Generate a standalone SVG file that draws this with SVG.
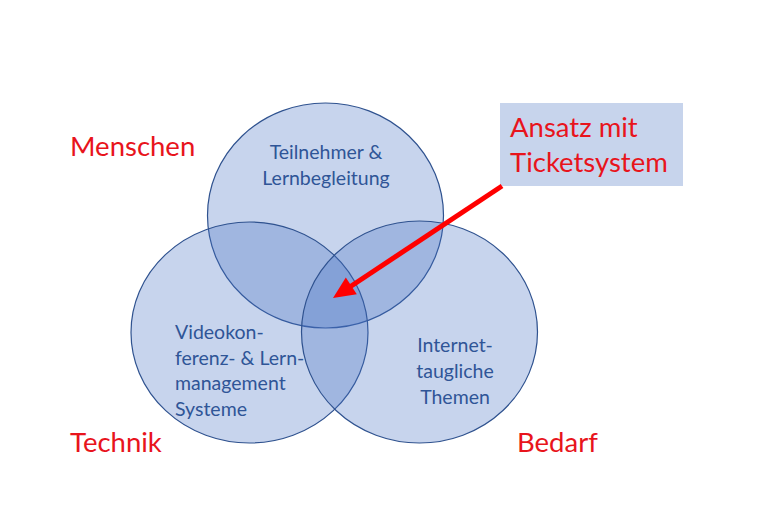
<svg xmlns="http://www.w3.org/2000/svg" width="762" height="508" viewBox="0 0 762 508">
<style>
.set{fill:#4472c4;fill-opacity:0.3;stroke:#2f528f;stroke-width:1.2}
.t{font-family:Lato,"Open Sans",sans-serif;font-size:19.5px;fill:#2f5597}
.r{font-family:Lato,"Open Sans",sans-serif;font-size:27.5px;fill:#e8141c}
</style>
<rect width="762" height="508" fill="#ffffff"/>
<g id="top-circle">
<ellipse class="set" cx="325.5" cy="215.5" rx="118" ry="112.5"/>
<text class="t" x="326" y="159" text-anchor="middle">Teilnehmer &amp;</text>
<text class="t" x="326" y="185" text-anchor="middle">Lernbegleitung</text>
</g>
<g id="left-circle">
<ellipse class="set" cx="249.5" cy="332.5" rx="118.5" ry="110.5"/>
<text class="t" x="175" y="339">Videokon-</text>
<text class="t" x="175" y="365">ferenz- &amp; Lern-</text>
<text class="t" x="175" y="390">management</text>
<text class="t" x="175" y="416">Systeme</text>
</g>
<g id="right-circle">
<ellipse class="set" cx="419.5" cy="332" rx="118" ry="111"/>
<text class="t" x="455" y="352" text-anchor="middle">Internet-</text>
<text class="t" x="455" y="378" text-anchor="middle">taugliche</text>
<text class="t" x="455" y="404" text-anchor="middle">Themen</text>
</g>
<g id="label-menschen"><text class="r" x="70" y="156">Menschen</text></g>
<g id="label-technik"><text class="r" x="70" y="452">Technik</text></g>
<g id="label-bedarf"><text class="r" x="517" y="452">Bedarf</text></g>
<g id="callout">
<rect x="500" y="103" width="183" height="83" fill="#c7d4ec"/>
<text class="r" x="510" y="137">Ansatz mit</text>
<text class="r" x="510" y="172">Ticketsystem</text>
</g>
<g id="connectors">
<line x1="502" y1="186" x2="349" y2="287.5" stroke="#ff0000" stroke-width="5"/>
<polygon points="333,298 356.8,294.2 345.8,277.6" fill="#ff0000"/>
</g>
</svg>
